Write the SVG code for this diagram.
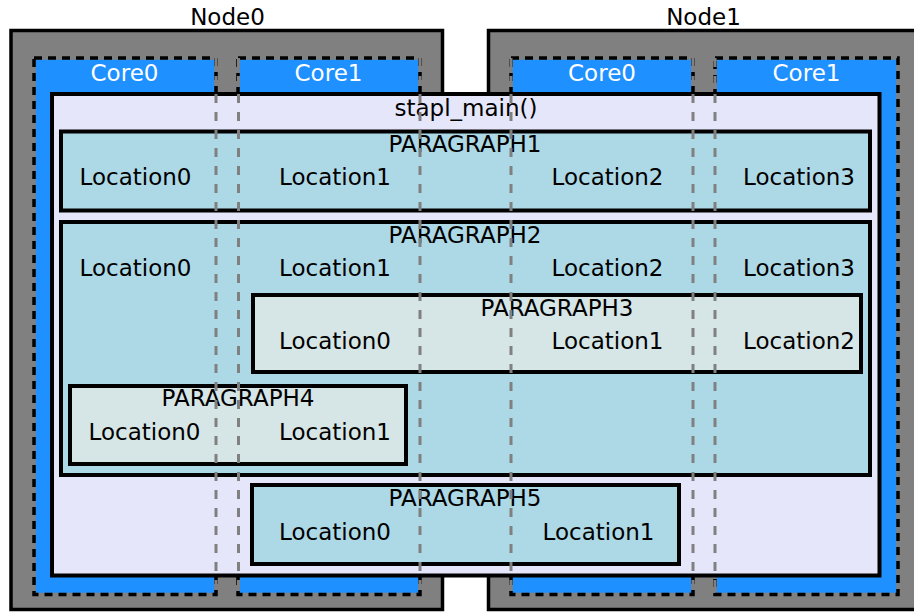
<svg xmlns="http://www.w3.org/2000/svg" width="914" height="613" viewBox="0 0 914 613">
  <style>
    text { font-family: "DejaVu Sans", "Liberation Sans", sans-serif; font-size: 23px; text-anchor: middle; fill: #000; }
    .core-label { fill: #ffffff; }
    .node-box { fill: #808080; stroke: #000; stroke-width: 3.5; }
    .core-box { fill: #1e90ff; stroke: #808080; stroke-width: 3.5; }
    .core-dash { fill: none; stroke: #000; stroke-width: 3.5; stroke-dasharray: 8 6; }
    .main-box { fill: #e6e6fa; stroke: #000; stroke-width: 4; }
    .para { fill: #add8e6; stroke: #000; stroke-width: 4; }
    .para-nested { fill: #d6e5e5; stroke: #000; stroke-width: 4; }
    .divider { stroke: #808080; stroke-width: 3; stroke-dasharray: 9 9; fill: none; }
  </style>

  <!-- physical nodes -->
  <g id="node0">
    <rect class="node-box" x="11" y="30.5" width="431.5" height="579"/>
    <text x="227.5" y="25">Node0</text>
  </g>
  <g id="node1">
    <rect class="node-box" x="488.5" y="30.5" width="440" height="579"/>
    <text x="703.5" y="25">Node1</text>
  </g>

  <!-- cores -->
  <g id="node0-core0">
    <rect class="core-box" x="34" y="58" width="182" height="536.5"/>
    <rect class="core-dash" x="34" y="58" width="182" height="536.5"/>
    <text class="core-label" x="124.5" y="81">Core0</text>
  </g>
  <g id="node0-core1">
    <rect class="core-box" x="238" y="58" width="182" height="536.5"/>
    <rect class="core-dash" x="238" y="58" width="182" height="536.5"/>
    <text class="core-label" x="328.5" y="81">Core1</text>
  </g>
  <g id="node1-core0">
    <rect class="core-box" x="511" y="58" width="182" height="536.5"/>
    <rect class="core-dash" x="511" y="58" width="182" height="536.5"/>
    <text class="core-label" x="602" y="81">Core0</text>
  </g>
  <g id="node1-core1">
    <rect class="core-box" x="715" y="58" width="183" height="536.5"/>
    <rect class="core-dash" x="715" y="58" width="183" height="536.5"/>
    <text class="core-label" x="806.5" y="81">Core1</text>
  </g>

  <!-- main program -->
  <g id="stapl-main">
    <rect class="main-box" x="52" y="94" width="827.5" height="481.5"/>
    <text x="466" y="116">stapl_main()</text>
  </g>

  <g id="paragraph1">
    <rect class="para" x="61" y="131.5" width="809" height="79"/>
    <text x="465" y="152">PARAGRAPH1</text>
    <text x="135.5" y="185">Location0</text>
    <text x="335" y="185">Location1</text>
    <text x="607.5" y="185">Location2</text>
    <text x="799" y="185">Location3</text>
  </g>

  <g id="paragraph2">
    <rect class="para" x="61" y="222" width="809" height="253"/>
    <text x="465" y="243">PARAGRAPH2</text>
    <text x="135.5" y="276">Location0</text>
    <text x="335" y="276">Location1</text>
    <text x="607.5" y="276">Location2</text>
    <text x="799" y="276">Location3</text>
  </g>

  <g id="paragraph3">
    <rect class="para-nested" x="253" y="295" width="608" height="77"/>
    <text x="557" y="316">PARAGRAPH3</text>
    <text x="335" y="349">Location0</text>
    <text x="607.5" y="349">Location1</text>
    <text x="799" y="349">Location2</text>
  </g>

  <g id="paragraph4">
    <rect class="para-nested" x="70" y="386" width="336" height="78"/>
    <text x="238" y="406">PARAGRAPH4</text>
    <text x="144.5" y="440">Location0</text>
    <text x="335" y="440">Location1</text>
  </g>

  <g id="paragraph5">
    <rect class="para" x="252" y="485" width="427" height="79"/>
    <text x="465" y="506">PARAGRAPH5</text>
    <text x="335" y="540">Location0</text>
    <text x="598.5" y="540">Location1</text>
  </g>

  <!-- core boundary lines -->
  <g id="connectors">
    <line class="divider" x1="216" y1="58" x2="216" y2="594"/>
    <line class="divider" x1="238.5" y1="58" x2="238.5" y2="594"/>
    <line class="divider" x1="420" y1="58" x2="420" y2="594"/>
    <line class="divider" x1="511" y1="58" x2="511" y2="594"/>
    <line class="divider" x1="693" y1="58" x2="693" y2="594"/>
    <line class="divider" x1="715" y1="58" x2="715" y2="594"/>
  </g>
</svg>
